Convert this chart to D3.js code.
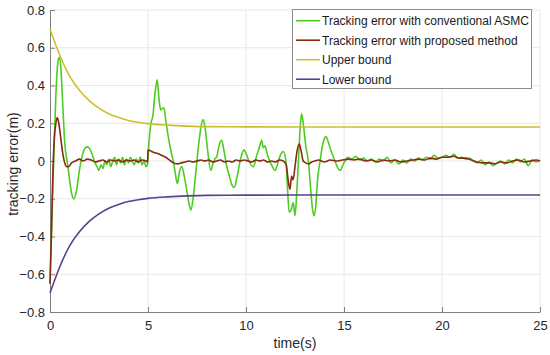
<!DOCTYPE html>
<html>
<head>
<meta charset="utf-8">
<script src="https://cdn.jsdelivr.net/npm/d3@7"></script>
<style>
  body { margin: 0; background: #fff; }
  text { font-family: Arial, "Liberation Sans", sans-serif; }
</style>
</head>
<body>
<svg id="chart" width="550" height="355"></svg>
<script>
// axis ticks
var xTicks = [0, 5, 10, 15, 20, 25];
var yTicks = [-0.8, -0.6, -0.4, -0.2, 0, 0.2, 0.4, 0.6, 0.8];

var seriesNames = ["Tracking error with conventional ASMC", "Tracking error with proposed method", "Upper bound", "Lower bound"];

// [time, error]
var asmcErr = [
  [0, -0.65], [0.1, -0.3], [0.2, 0.05], [0.3, 0.35], [0.4, 0.52], [0.47, 0.55], [0.55, 0.5], [0.65, 0.3],
  [0.75, 0.1], [0.9, -0.02], [1.0, -0.1], [1.1, -0.17], [1.22, -0.2], [1.35, -0.16], [1.5, -0.05], [1.65, 0.03],
  [1.8, 0.07], [1.92, 0.075], [2.05, 0.06], [2.2, 0.02], [2.3, -0.01], [2.4, -0.03], [2.5, -0.05], [2.6, -0.02],
  [2.7, -0.04], [2.8, 0.0], [2.9, -0.02], [3.0, 0.01], [3.1, -0.03], [3.2, 0.0], [3.3, 0.02], [3.4, -0.02],
  [3.5, 0.01], [3.6, -0.01], [3.7, 0.02], [3.8, -0.02], [3.9, 0.01], [4.0, -0.01], [4.1, 0.02], [4.2, 0.0],
  [4.3, -0.02], [4.4, 0.01], [4.5, -0.01], [4.6, 0.02], [4.7, -0.02], [4.8, 0.0], [4.9, -0.03], [4.97, -0.02],
  [5.05, 0.1], [5.15, 0.2], [5.25, 0.24], [5.35, 0.35], [5.47, 0.43], [5.56, 0.33], [5.65, 0.27], [5.75, 0.28],
  [5.82, 0.28], [5.9, 0.22], [6.0, 0.15], [6.12, 0.08], [6.2, 0.04], [6.29, 0.0], [6.4, -0.07], [6.5, -0.12],
  [6.6, -0.06], [6.72, -0.03], [6.85, -0.08], [7.0, -0.17], [7.1, -0.23], [7.19, -0.26], [7.3, -0.2], [7.45, -0.05],
  [7.6, 0.1], [7.72, 0.19], [7.82, 0.22], [7.92, 0.17], [8.05, 0.05], [8.2, -0.05], [8.3, -0.02], [8.4, 0.01],
  [8.5, 0.02], [8.62, 0.08], [8.76, 0.11], [8.85, 0.07], [9.0, -0.02], [9.15, -0.08], [9.3, -0.13], [9.4, -0.14],
  [9.55, -0.08], [9.7, 0.0], [9.8, 0.04], [9.9, 0.06], [10.0, 0.04], [10.15, 0.0], [10.37, -0.03], [10.55, 0.03],
  [10.7, 0.08], [10.8, 0.11], [10.88, 0.07], [10.97, 0.08], [11.1, 0.03], [11.3, -0.02], [11.48, -0.05], [11.6, -0.02],
  [11.75, 0.03], [11.9, 0.05], [12.04, 0.0], [12.12, -0.15], [12.2, -0.27], [12.3, -0.26], [12.41, -0.22], [12.5, -0.29],
  [12.6, -0.15], [12.7, 0.05], [12.78, 0.2], [12.84, 0.25], [12.92, 0.2], [13.05, 0.08], [13.18, 0.0], [13.3, -0.15],
  [13.4, -0.26], [13.47, -0.29], [13.55, -0.25], [13.65, -0.1], [13.78, 0.0], [13.9, 0.08], [14.0, 0.12], [14.08, 0.13],
  [14.2, 0.1], [14.35, 0.05], [14.54, 0.0], [14.65, -0.03], [14.8, -0.05], [14.95, -0.02], [15.05, 0.0], [15.2, 0.02],
  [15.4, 0.01], [15.6, 0.025], [15.8, 0.005], [16.0, 0.015], [16.2, 0.0], [16.4, 0.01], [16.6, -0.005], [16.8, 0.01],
  [17.0, 0.0], [17.2, 0.02], [17.4, -0.01], [17.6, 0.005], [17.8, -0.015], [18.0, 0.005], [18.2, -0.01], [18.4, 0.01],
  [18.6, 0.0], [18.8, 0.015], [19.0, 0.005], [19.2, 0.02], [19.4, 0.01], [19.6, 0.03], [19.8, 0.015], [20.0, 0.02],
  [20.2, 0.03], [20.4, 0.02], [20.6, 0.035], [20.8, 0.015], [21.0, 0.02], [21.2, 0.01], [21.4, 0.015], [21.6, 0.0],
  [21.8, -0.01], [22.0, 0.005], [22.2, -0.02], [22.4, -0.005], [22.6, -0.025], [22.8, -0.01], [23.0, 0.0], [23.2, -0.015],
  [23.4, 0.005], [23.6, -0.01], [23.8, 0.01], [24.0, -0.005], [24.2, 0.01], [24.4, -0.025], [24.6, 0.005], [24.8, -0.005],
  [25.0, 0.005]
];

var proposedErr = [
  [0, -0.65], [0.08, -0.35], [0.15, -0.05], [0.22, 0.12], [0.3, 0.2], [0.37, 0.23], [0.45, 0.2], [0.55, 0.12],
  [0.65, 0.04], [0.75, -0.01], [0.85, -0.03], [0.95, -0.03], [1.1, -0.01], [1.3, 0.0], [1.5, 0.01], [1.7, 0.0],
  [1.9, 0.01], [2.1, 0.005], [2.3, -0.005], [2.5, 0.0], [2.7, 0.005], [2.9, -0.005], [3.1, 0.005], [3.3, 0.0],
  [3.5, 0.005], [3.7, -0.005], [3.9, 0.005], [4.1, 0.0], [4.3, 0.005], [4.5, -0.005], [4.7, 0.005], [4.9, 0.0],
  [4.98, -0.005], [5.0, 0.06], [5.1, 0.055], [5.3, 0.045], [5.5, 0.04], [5.7, 0.03], [5.9, 0.02], [6.1, 0.005],
  [6.3, -0.01], [6.5, -0.015], [6.7, -0.01], [6.9, -0.005], [7.1, 0.0], [7.3, -0.005], [7.5, 0.0], [7.7, 0.005],
  [7.9, 0.0], [8.1, 0.005], [8.3, -0.005], [8.5, 0.0], [8.7, 0.005], [8.9, -0.005], [9.1, 0.0], [9.3, -0.005],
  [9.5, 0.005], [9.7, 0.0], [9.9, 0.005], [10.1, 0.0], [10.3, -0.005], [10.5, 0.005], [10.7, 0.0], [10.9, 0.005],
  [11.1, -0.005], [11.3, 0.0], [11.5, -0.005], [11.7, 0.005], [11.9, 0.0], [12.05, -0.02], [12.15, -0.1], [12.24, -0.15],
  [12.33, -0.08], [12.4, -0.1], [12.5, -0.03], [12.6, 0.05], [12.72, 0.09], [12.82, 0.05], [12.92, 0.0], [13.05, -0.01],
  [13.2, -0.015], [13.35, -0.005], [13.5, 0.0], [13.7, 0.005], [14.0, -0.005], [14.3, 0.005], [14.6, 0.0], [14.9, 0.005],
  [15.2, 0.01], [15.5, 0.005], [15.8, 0.01], [16.1, 0.0], [16.4, 0.005], [16.7, -0.005], [17.0, 0.005], [17.3, 0.0],
  [17.6, 0.005], [17.9, -0.005], [18.2, 0.0], [18.5, 0.005], [18.8, 0.01], [19.1, 0.005], [19.4, 0.015], [19.7, 0.01],
  [20.0, 0.02], [20.3, 0.02], [20.6, 0.025], [20.9, 0.015], [21.2, 0.015], [21.5, 0.005], [21.8, -0.005], [22.1, -0.01],
  [22.4, -0.01], [22.7, -0.015], [23.0, -0.005], [23.3, -0.01], [23.6, 0.0], [23.9, 0.005], [24.2, -0.005], [24.5, 0.0],
  [24.8, 0.005], [25.0, 0.0]
];

var upperBound = [
  [0, 0.7], [0.5, 0.56], [1, 0.45], [1.5, 0.375], [2, 0.32], [2.5, 0.28], [3, 0.25], [3.5, 0.23], [4, 0.215],
  [4.5, 0.205], [5, 0.198], [6, 0.19], [7, 0.185], [8, 0.182], [10, 0.181], [15, 0.18], [25, 0.18]
];
var lowerBound = [
  [0, -0.7], [0.5, -0.56], [1, -0.45], [1.5, -0.375], [2, -0.32], [2.5, -0.28], [3, -0.25], [3.5, -0.23], [4, -0.215],
  [4.5, -0.205], [5, -0.198], [6, -0.19], [7, -0.185], [8, -0.182], [10, -0.181], [15, -0.18], [25, -0.18]
];

var colors = ["#4fcb22", "#8a2a10", "#cdbe2e", "#5c3e92"];

var plotLeft = 50, plotRight = 540, plotTop = 10, plotBottom = 312;
var svg = d3.select("#chart");

var x = d3.scaleLinear().domain([0, 25]).range([plotLeft, plotRight]);
var y = d3.scaleLinear().domain([-0.8, 0.8]).range([plotBottom, plotTop]);

// grid
svg.append("g").selectAll("line").data(xTicks.slice(1)).enter().append("line")
    .attr("x1", function(d) { return x(d); }).attr("x2", function(d) { return x(d); })
    .attr("y1", plotTop).attr("y2", plotBottom)
    .attr("stroke", "#e8e8e8").attr("stroke-width", 1);
svg.append("g").selectAll("line").data(yTicks.slice(1)).enter().append("line")
    .attr("x1", plotLeft).attr("x2", plotRight)
    .attr("y1", function(d) { return y(d); }).attr("y2", function(d) { return y(d); })
    .attr("stroke", "#e8e8e8").attr("stroke-width", 1);

// axes (ticks inside like matlab)
var xAxis = svg.append("g").attr("transform", "translate(0," + plotBottom + ")")
    .call(d3.axisBottom(x).tickValues(xTicks).tickSizeInner(-5).tickSizeOuter(0).tickPadding(9));
var yAxis = svg.append("g").attr("transform", "translate(" + plotLeft + ",0)")
    .call(d3.axisLeft(y).tickValues(yTicks).tickSizeInner(-5).tickSizeOuter(0).tickPadding(5)
        .tickFormat(function(d) { return d === 0 ? "0" : d3.format(".1f")(d); }));
[xAxis, yAxis].forEach(function(g) {
    g.select(".domain").attr("stroke", "#808080");
    g.selectAll(".tick line").attr("stroke", "#808080");
    g.selectAll(".tick text").attr("fill", "#262626").style("font-size", "13px")
        .style("font-family", "Arial, 'Liberation Sans', sans-serif");
});

// lines
var line = d3.line()
    .x(function(d) { return x(d[0]); })
    .y(function(d) { return y(d[1]); })
    .curve(d3.curveMonotoneX);

var allSeries = [asmcErr, proposedErr, upperBound, lowerBound];
svg.append("g").selectAll("path").data(allSeries).enter().append("path")
    .attr("d", line)
    .attr("fill", "none")
    .attr("stroke", function(d, i) { return colors[i]; })
    .attr("stroke-width", 1.6)
    .attr("stroke-linejoin", "round");

// labels
svg.append("text").attr("x", (plotLeft + plotRight) / 2).attr("y", 348)
    .attr("text-anchor", "middle").style("font-size", "14px").attr("fill", "#262626")
    .text("time(s)");
svg.append("text").attr("transform", "translate(18," + ((plotTop + plotBottom) / 2 + 3) + ") rotate(-90)")
    .attr("text-anchor", "middle").style("font-size", "14px").attr("fill", "#262626")
    .text("tracking error(m)");

// legend
var legend = svg.append("g");
legend.append("rect").attr("x", 292.5).attr("y", 9.5).attr("width", 239).attr("height", 79)
    .attr("fill", "#fff").attr("stroke", "#8c8c8c").attr("stroke-width", 1);
var items = legend.selectAll("g.item").data(seriesNames).enter().append("g")
    .attr("class", "item")
    .attr("transform", function(d, i) { return "translate(0," + (20.7 + i * 19.5) + ")"; });
items.append("line").attr("x1", 296).attr("x2", 320).attr("y1", 0).attr("y2", 0)
    .attr("stroke", function(d, i) { return colors[i]; }).attr("stroke-width", 1.6);
items.append("text").attr("x", 322).attr("y", 4.3)
    .style("font-size", "12px").attr("fill", "#1a1a1a")
    .text(function(d) { return d; });
</script>
</body>
</html>
